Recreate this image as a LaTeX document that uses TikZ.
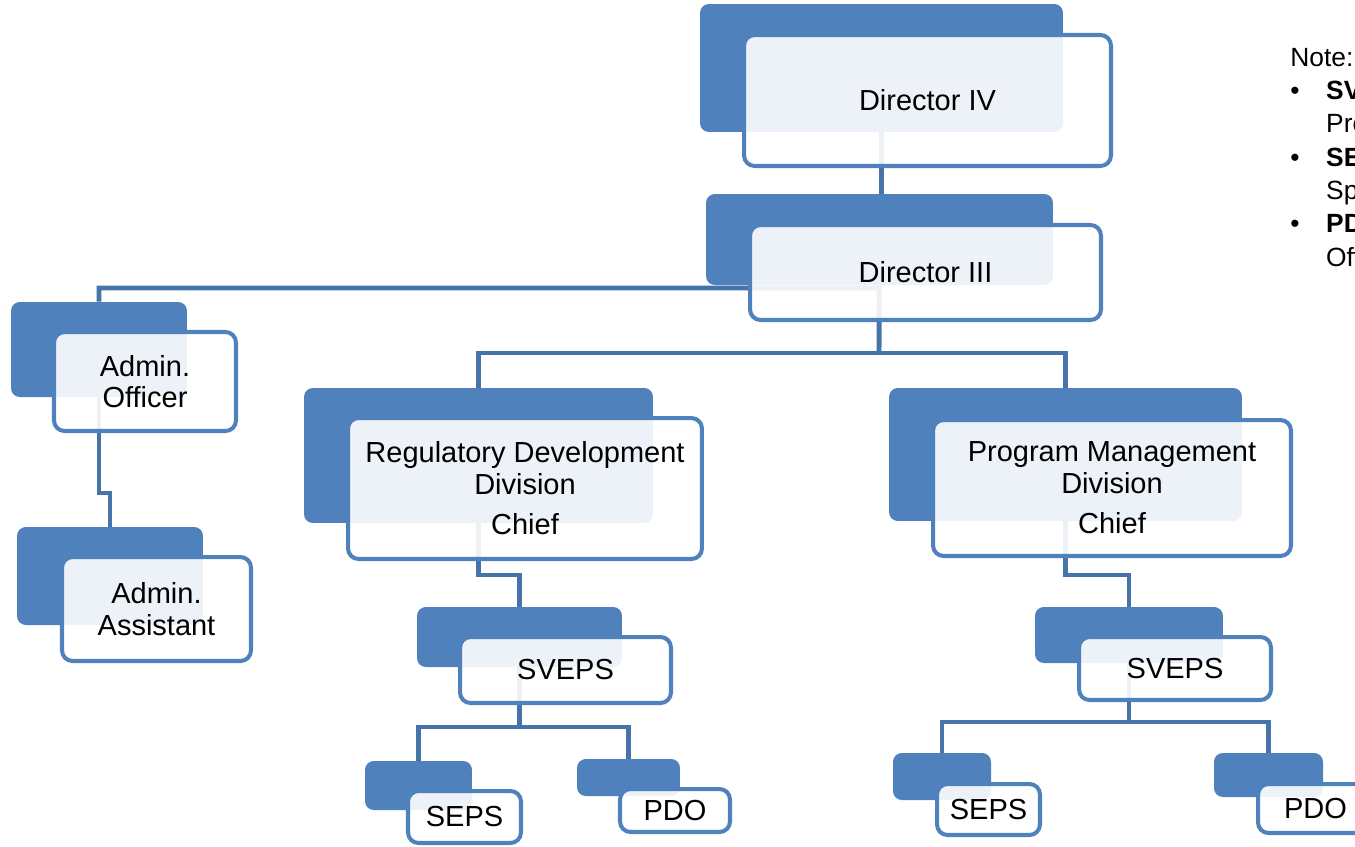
\documentclass[tikz,border=0pt]{standalone}
\usepackage{fontspec}
\setmainfont{Liberation Sans}
\usetikzlibrary{backgrounds}
\definecolor{unitblue}{RGB}{79,129,189}
\definecolor{linkblue}{RGB}{70,115,170}
\newcommand\unitfont{\fontsize{16.5}{18}\selectfont}
\newcommand\notefont{\fontsize{15}{19}\selectfont}
\tikzset{
  backbox/.style={fill=unitblue, rounded corners=5pt, inner sep=0pt},
  frontbox/.style={draw=unitblue, line width=2.3pt, fill=white, fill opacity=0.9,
    text opacity=1, rounded corners=6pt, inner sep=0pt, align=center, font=\unitfont},
  link/.style={draw=linkblue, line width=2.8pt}
}
\begin{document}
\begin{tikzpicture}[x=0.02cm,y=-0.02cm]
\path[use as bounding box] (0,0) rectangle (1355,846);
\clip (0,0) rectangle (1355,846);

% directors
\node[backbox, minimum width=7.26cm, minimum height=2.56cm] (d4b) at (881.5,68) {};
\node[frontbox, minimum width=7.34cm, minimum height=2.62cm] (d4f) at (927.5,100.5) {Director IV};
\node[backbox, minimum width=6.94cm, minimum height=1.82cm] (d3b) at (879.5,239.5) {};
\node[frontbox, minimum width=7.02cm, minimum height=1.90cm] (d3f) at (925.5,272.5) {Director III};

% admin staff
\node[backbox, minimum width=3.52cm, minimum height=1.90cm] (aob) at (99,349.5) {};
\node[frontbox, minimum width=3.64cm, minimum height=1.98cm] (aof) at (145,381.5) {Admin.\\Officer};
\node[backbox, minimum width=3.72cm, minimum height=1.96cm] (aab) at (110,576) {};
\node[frontbox, minimum width=3.78cm, minimum height=2.08cm] (aaf) at (156.5,609) {Admin.\\Assistant};

% divisions
\node[backbox, minimum width=6.98cm, minimum height=2.70cm] (rddb) at (478.5,455.5) {};
\node[frontbox, minimum width=7.08cm, minimum height=2.82cm] (rddf) at (525,488.5)
  {Regulatory Development\\Division\\[5pt]Chief};
\node[backbox, minimum width=7.06cm, minimum height=2.66cm] (pmdb) at (1065.5,454.5) {};
\node[frontbox, minimum width=7.16cm, minimum height=2.72cm] (pmdf) at (1112,488)
  {Program Management\\Division\\[5pt]Chief};

% regulatory development staff
\node[backbox, minimum width=4.10cm, minimum height=1.20cm] (svlb) at (519.5,637) {};
\node[frontbox, minimum width=4.22cm, minimum height=1.32cm] (svlf) at (565.5,670) {SVEPS};
\node[backbox, minimum width=2.14cm, minimum height=0.98cm] (selb) at (418.5,785.5) {};
\node[frontbox, minimum width=2.26cm, minimum height=1.04cm] (self) at (464.5,817) {SEPS};
\node[backbox, minimum width=2.06cm, minimum height=0.74cm] (pdlb) at (628.5,777.5) {};
\node[frontbox, minimum width=2.20cm, minimum height=0.86cm] (pdlf) at (675,810.5) {PDO};

% program management staff
\node[backbox, minimum width=3.76cm, minimum height=1.12cm] (svrb) at (1129,635) {};
\node[frontbox, minimum width=3.84cm, minimum height=1.26cm] (svrf) at (1175,668.5) {SVEPS};
\node[backbox, minimum width=1.96cm, minimum height=0.94cm] (serb) at (942,776.5) {};
\node[frontbox, minimum width=2.06cm, minimum height=1.02cm] (serf) at (988.5,809.5) {SEPS};
\node[backbox, minimum width=2.18cm, minimum height=0.88cm] (pdrb) at (1268.5,775) {};
\node[frontbox, minimum width=2.30cm, minimum height=0.98cm] (pdrf) at (1315.5,808.5) {PDO};

% note
\node[font=\notefont, anchor=base west, inner sep=0pt] (note) at (1290,66) {%
\begin{tabular}[t]{@{}l@{}l@{}}
\multicolumn{2}{@{}l@{}}{Note:}\\
\makebox[20.4pt][l]{\textbullet} & \textbf{SVEPS} -- Supervising Education\\
 & Program Specialist\\
\textbullet & \textbf{SEPS} -- Senior Education Program\\
 & Specialist\\
\textbullet & \textbf{PDO} -- Project Development\\
 & Officer
\end{tabular}};

% connectors
\coordinate (bus0) at (879,288);
\coordinate (bus1) at (879,353);
\coordinate (jog0) at (0,493);
\coordinate (jog1) at (0,575);
\coordinate (bus2) at (0,727);
\coordinate (bus3) at (0,722);
\begin{pgfonlayer}{background}
\draw[link] (d4b) -- (d4b |- d3b.north);
\draw[link] (d3b) -- (bus0) -| (aob.north);
\draw[link] (aob) |- (jog0 -| aab) -- (aab.north);
\draw[link] (d3b) -- (bus1);
\draw[link] (rddb.north) |- (bus1) -| (pmdb.north);
\draw[link] (rddb) |- (jog1 -| svlb) -- (svlb.north);
\draw[link] (pmdb) |- (jog1 -| svrb) -- (svrb.north);
\draw[link] (svlb) -- (bus2 -| svlb);
\draw[link] (selb.north) |- (bus2 -| svlb) -| (pdlb.north);
\draw[link] (svrb) -- (bus3 -| svrb);
\draw[link] (serb.north) |- (bus3 -| svrb) -| (pdrb.north);
\end{pgfonlayer}
\end{tikzpicture}
\end{document}
